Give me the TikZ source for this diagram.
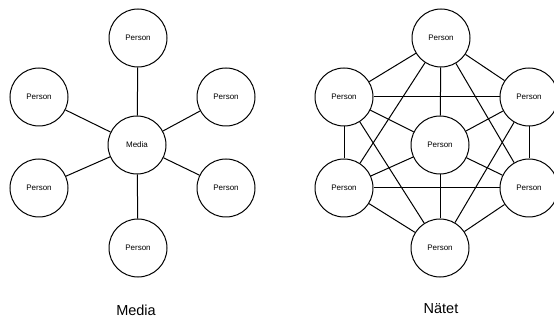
\documentclass[tikz,border=0pt]{standalone}
\usepackage{fontspec}
\setmainfont{Liberation Sans}
\begin{document}
\begin{tikzpicture}[x=1pt,y=-1pt,
    person/.style={circle,draw,line width=1pt,minimum size=58pt,inner sep=0pt,
      font=\fontsize{8}{9}\selectfont},
    link/.style={line width=1pt},
    caption/.style={font=\fontsize{14.5}{16}\selectfont}]
  \useasboundingbox (0,0) rectangle (554,320);
  % media star
  \node[person] (mc) at (137,145) {Media};
  \node[person] (mt) at (138,38) {Person};
  \node[person] (mul) at (39,97) {Person};
  \node[person] (mur) at (226,97) {Person};
  \node[person] (mll) at (39,188) {Person};
  \node[person] (mlr) at (226,188) {Person};
  \node[person] (mb) at (138,248) {Person};
  \foreach \p in {mt, mul, mur, mll, mlr, mb} {
    \draw[link] (mc) -- (\p);
  }
  \node[caption] (mcap) at (136,310) {Media};
  % network
  \node[person] (nc) at (440,145) {Person};
  \node[person] (nt) at (441,38) {Person};
  \node[person] (nul) at (344,97) {Person};
  \node[person] (nur) at (529,97) {Person};
  \node[person] (nll) at (344,188) {Person};
  \node[person] (nlr) at (529,188) {Person};
  \node[person] (nb) at (440,248) {Person};
  \foreach \a/\b in {nt/nul, nt/nur, nt/nc, nt/nll, nt/nlr,
                     nul/nur, nul/nc, nul/nll, nul/nb,
                     nur/nc, nur/nlr, nur/nb,
                     nc/nll, nc/nlr, nc/nb,
                     nll/nlr, nll/nb, nlr/nb} {
    \draw[link] (\a) -- (\b);
  }
  \node[caption] (ncap) at (441,309) {Nätet};
\end{tikzpicture}
\end{document}
